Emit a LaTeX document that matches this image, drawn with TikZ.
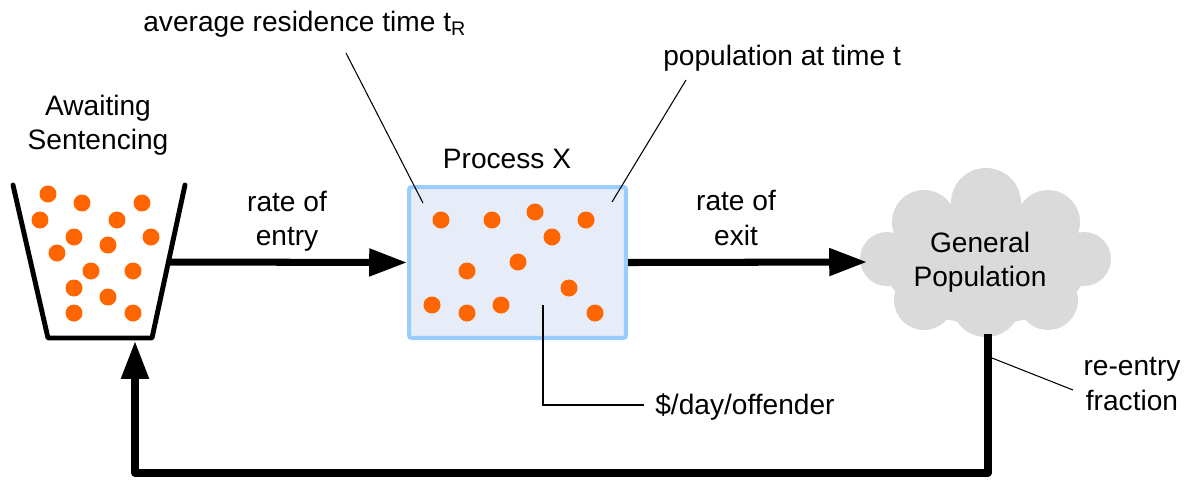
\documentclass[tikz,border=0pt]{standalone}
\usepackage{fontspec}
\setmainfont{Liberation Sans}
\usetikzlibrary{arrows.meta}
\definecolor{dotc}{RGB}{255,102,0}
\definecolor{boxfill}{RGB}{230,236,248}
\definecolor{boxline}{RGB}{153,204,255}
\definecolor{cloudc}{RGB}{218,218,218}
\begin{document}
\begin{tikzpicture}[x=0.02cm,y=-0.02cm,
  lbl/.style={font=\fontsize{16}{19.5}\selectfont, inner sep=0pt, align=center},
  flow/.style={line width=4pt, -{Triangle[length=21.5pt,width=15pt]}},
  lead/.style={line width=0.6pt},
  dotf/.style={fill=dotc},
  cloudf/.style={fill=cloudc}]
\useasboundingbox (0,0) rectangle (1190,481);

% cloud
\fill[cloudf] (986,262) ellipse [x radius=103, y radius=62];
\foreach \x/\y/\r in {986/203/35, 924/222/32, 887/259/27, 924/300/30, 986/302/35, 1048/222/32, 1084/259/27, 1048/300/30}
  \fill[cloudf] (\x,\y) circle [radius=\r];

% process box
\node[draw=boxline, fill=boxfill, line width=2.3pt, rounded corners=1.5pt,
      minimum width=4.34cm, minimum height=3.02cm, inner sep=0pt] (proc) at (517.5,262.5) {};

% bucket
\coordinate (bTL) at (13,185);
\coordinate (bBL) at (48,338);
\coordinate (bBR) at (152,338);
\coordinate (bTR) at (185,185);
\draw[line width=2.8pt, line cap=round, line join=round] (bTL) -- (bBL) -- (bBR) -- (bTR);

% dots
\foreach \x/\y in {48/194, 82/203, 142/203, 40/220, 117/220, 74/237, 151/237, 108/245,
  57/253, 91/271, 133/271, 74/288, 108/297, 74/313, 133/313,
  441/220, 492/220, 535/212, 586/220, 552/237, 467/271, 518/262, 569/288,
  432/305, 467/313, 501/305, 595/313}
  \fill[dotf] (\x,\y) circle [radius=0.17cm];

% connectors
\coordinate (bR) at (168,262);
\coordinate (bB) at (135,341);
\coordinate (cW) at (867,262);
\coordinate (cS) at (988,334);
\coordinate (loopR) at (988,473);
\coordinate (loopL) at (135,473);
\draw[flow] (bR) -- (proc.west);
\draw[flow] (proc.east) -- (cW);
\draw[flow, line join=round] (cS) -- (loopR) -- (loopL) -- (bB);

% labels
\node[lbl, anchor=base west] (avg) at (143,31) {average residence time t\textsubscript{R}};
\node[lbl, anchor=base west] (popt) at (663,65) {population at time t};
\node[lbl, anchor=base] (px) at (507,168) {Process X};
\node[lbl] (await) at (98,125) {Awaiting\\Sentencing};
\node[lbl] (rin) at (287,221) {rate of\\entry};
\node[lbl] (rout) at (736,218) {rate of\\exit};
\node[lbl] (gp) at (980,262) {General\\Population};
\node[lbl, anchor=base west] (cost) at (655,414) {\$/day/offender};
\node[lbl] (reent) at (1132,384) {re-entry\\fraction};

% leader lines
\coordinate (a1) at (346,53);
\coordinate (a2) at (423,203);
\coordinate (p1) at (686,80);
\coordinate (p2) at (612,202);
\coordinate (c1) at (543,305);
\coordinate (c2) at (543,405);
\coordinate (c3) at (644,405);
\coordinate (r1) at (992,358);
\coordinate (r2) at (1073,390);
\draw[lead] (a1) -- (a2);
\draw[lead] (p1) -- (p2);
\draw[lead] (c1) -- (c2) -- (c3);
\draw[lead] (r1) -- (r2);
\end{tikzpicture}
\end{document}
